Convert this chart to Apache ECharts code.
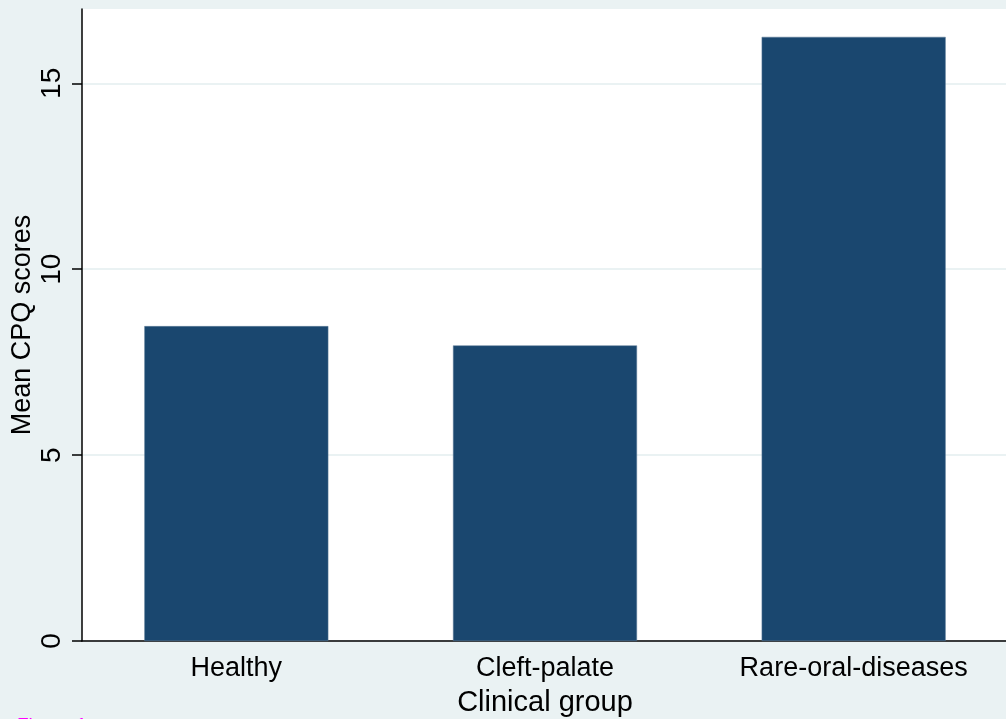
<!DOCTYPE html>
<html><head><meta charset="utf-8">
<script src="https://cdn.jsdelivr.net/npm/echarts@6/dist/echarts.min.js"></script>
<style>html,body{margin:0;padding:0;background:#EAF2F3;}#c{width:1006px;height:719px;}</style>
</head><body><div id="c"></div>
<script>
const categories = ["Healthy", "Cleft-palate", "Rare-oral-diseases"];
const meanScores = [8.47, 7.95, 16.25];
const yTicks = [0, 5, 10, 15];

const chart = echarts.init(document.getElementById('c'), null, {renderer: 'canvas'});
const font = '"Liberation Sans", Arial, Helvetica, sans-serif';
chart.setOption({
  backgroundColor: '#EAF2F3',
  animation: false,
  grid: {left: 82, right: -2, top: 9, bottom: 78, show: true, backgroundColor: '#FFFFFF', borderWidth: 0,
         containLabel: false, outerBoundsMode: 'none'},
  xAxis: {
    type: 'category', data: categories,
    axisLine: {lineStyle: {color: '#000', width: 1.5}},
    axisTick: {show: false},
    axisLabel: {color: '#000', fontSize: 27, fontFamily: font, margin: 14},
    name: 'Clinical group', nameLocation: 'middle', nameGap: 47, nameMoveOverlap: false,
    nameTextStyle: {color: '#000', fontSize: 29, fontFamily: font}
  },
  yAxis: {
    type: 'value', min: 0, max: 17, interval: 5,
    axisLine: {show: true, lineStyle: {color: '#000', width: 1.5}},
    axisTick: {show: true, length: 10, lineStyle: {color: '#000', width: 1.5}, customValues: yTicks},
    axisLabel: {color: '#000', fontSize: 28, fontFamily: font, rotate: 90, margin: 16, customValues: yTicks},
    splitLine: {show: true, lineStyle: {color: '#EAF2F3', width: 2}},
    name: 'Mean CPQ scores', nameLocation: 'middle', nameGap: 46, nameRotate: 90, nameMoveOverlap: false,
    nameTextStyle: {color: '#000', fontSize: 27, fontFamily: font}
  },
  series: [{
    type: 'bar', data: meanScores, barWidth: 184,
    itemStyle: {color: '#1A476F', borderColor: '#5E7D99', borderWidth: 0.5}
  }],
  graphic: [{
    type: 'text', left: 17, top: 716,
    style: {text: 'Figure 1', fill: '#FF00FF', fontSize: 19, fontFamily: font}
  }]
});
</script></body></html>
